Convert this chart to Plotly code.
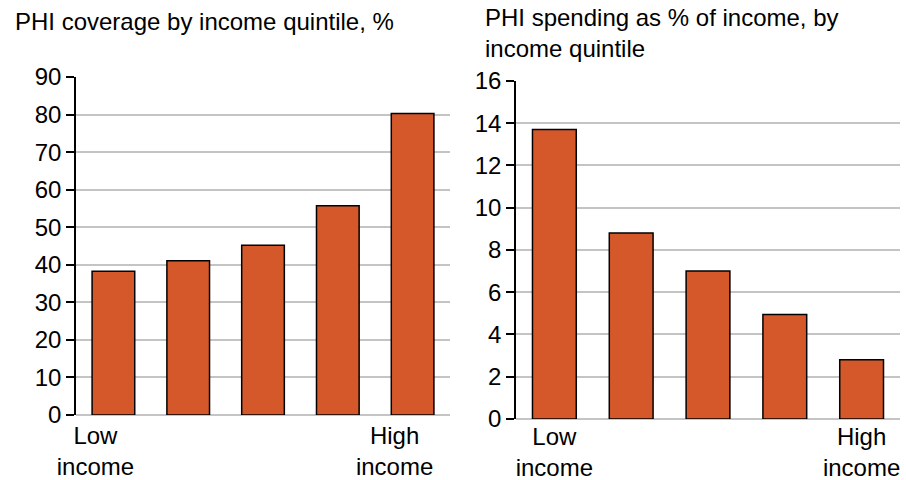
"""Two bar panels: PHI coverage and PHI spending by income quintile."""

import plotly.graph_objects as go

QUINTILES = ["Q1", "Q2", "Q3", "Q4", "Q5"]
TICK_LABELS = ["Low<br>income", "", "", "", "High<br>income"]
COVERAGE_PCT = [38.3, 41.1, 45.2, 55.7, 80.3]
SPENDING_PCT = [13.7, 8.8, 7.0, 4.95, 2.8]

LEFT_TITLE = "PHI coverage by income quintile, %"
RIGHT_TITLE = "PHI spending as % of income, by<br>income quintile"

BAR_COLOR = "#D5582B"
FONT = dict(family="Liberation Sans, Arial, sans-serif", size=24, color="#000000")


def _bar(values, xaxis, yaxis):
    return go.Bar(
        x=QUINTILES,
        y=values,
        xaxis=xaxis,
        yaxis=yaxis,
        marker=dict(color=BAR_COLOR, line=dict(color="#000000", width=1.5)),
        showlegend=False,
    )


def _xaxis(domain, anchor, shift, standoff):
    return dict(
        domain=domain,
        anchor=anchor,
        automargin=False,
        tickmode="array",
        tickvals=QUINTILES,
        ticktext=TICK_LABELS,
        ticklabelshift=shift,
        ticklabelstandoff=standoff,
        showline=False,
        showgrid=False,
        ticks="",
        tickfont=FONT,
    )


def _yaxis(domain, anchor, top, step):
    return dict(
        domain=domain,
        anchor=anchor,
        automargin=False,
        range=[0, top],
        dtick=step,
        showline=True,
        linecolor="#000000",
        linewidth=1.5,
        ticks="outside",
        ticklen=8,
        tickwidth=1.5,
        tickcolor="#000000",
        showgrid=True,
        gridcolor="#c4c4c4",
        gridwidth=1.5,
        zeroline=True,
        zerolinecolor="#c4c4c4",
        zerolinewidth=1.5,
        tickfont=FONT,
    )


figure = go.Figure()
figure.add_trace(_bar(COVERAGE_PCT, "x", "y"))
figure.add_trace(_bar(SPENDING_PCT, "x2", "y2"))

figure.update_layout(
    width=906,
    height=480,
    margin=dict(l=0, r=0, t=0, b=0),
    paper_bgcolor="#ffffff",
    plot_bgcolor="#ffffff",
    font=FONT,
    bargap=0.43,
    xaxis=_xaxis([0.0839, 0.4967], "y", -18, 4),
    yaxis=_yaxis([0.1354, 0.8396], "x", 90, 10),
    xaxis2=_xaxis([0.5695, 0.9934], "y2", 0, 1),
    yaxis2=_yaxis([0.1271, 0.8313], "x2", 16, 2),
    annotations=[
        dict(
            text=LEFT_TITLE, xref="paper", yref="paper", x=0.014, y=0.9875,
            xanchor="left", yanchor="top", showarrow=False, align="left", font=FONT,
        ),
        dict(
            text=RIGHT_TITLE, xref="paper", yref="paper", x=0.533, y=0.995,
            xanchor="left", yanchor="top", showarrow=False, align="left", font=FONT,
        ),
    ],
)

figure.write_html(
    "out.html",
    config={"displayModeBar": False},
    post_script="document.body.style.margin = '0';",
)
